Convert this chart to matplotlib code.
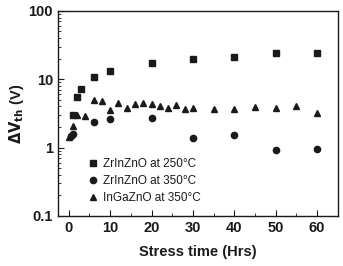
import matplotlib.pyplot as plt
from matplotlib.ticker import MultipleLocator, LogLocator, NullFormatter

plt.rcParams['font.family'] = ['Liberation Sans', 'DejaVu Sans']

# ZrInZnO at 250C
sq_x = [1, 2, 3, 6, 10, 20, 30, 40, 50, 60]
sq_y = [3.0, 5.5, 7.3, 10.8, 13.2, 17.4, 20.1, 21.3, 23.9, 24.4]

# ZrInZnO at 350C
circ_x = [0.5, 1, 6, 10, 20, 30, 40, 50, 60]
circ_y = [1.5, 1.6, 2.4, 2.6, 2.7, 1.37, 1.55, 0.92, 0.96]

# InGaZnO at 350C
tri_x = [0, 1, 2, 4, 6, 8, 10, 12, 14, 16, 18, 20, 22, 24, 26, 28, 30,
         35, 40, 45, 50, 55, 60]
tri_y = [1.45, 2.1, 3.0, 2.9, 5.0, 4.8, 3.6, 4.5, 3.8, 4.4, 4.5, 4.3, 4.1,
         3.8, 4.2, 3.7, 3.8, 3.7, 3.7, 3.9, 3.8, 4.0, 3.2]

ink = '#1a1a1a'

fig = plt.figure(figsize=(3.43, 2.66), dpi=100)
ax = fig.add_axes([0.169, 0.188, 0.816, 0.771])

ax.plot(sq_x, sq_y, 's', color=ink, ms=4.5, label='ZrInZnO at 250°C')
ax.plot(circ_x, circ_y, 'o', color=ink, ms=4.5, label='ZrInZnO at 350°C')
ax.plot(tri_x, tri_y, '^', color=ink, ms=5, label='InGaZnO at 350°C')

ax.set_yscale('log')
ax.set_ylim(0.1, 100)
ax.set_xlim(-2.6, 65)
ax.xaxis.set_major_locator(MultipleLocator(10))
ax.xaxis.set_minor_locator(MultipleLocator(5))
ax.yaxis.set_major_locator(LogLocator(base=10))
ax.yaxis.set_minor_locator(LogLocator(base=10, subs=range(2, 10)))
ax.yaxis.set_minor_formatter(NullFormatter())
ax.set_yticks([0.1, 1, 10, 100])
ax.set_yticklabels(['0.1', '1', '10', '100'])

ax.tick_params(which='both', direction='in', labelsize=10.5, colors=ink)
ax.tick_params(which='major', length=4)
ax.tick_params(which='minor', length=2)
for lbl in ax.get_xticklabels() + ax.get_yticklabels():
    lbl.set_fontweight('bold')
for s in ax.spines.values():
    s.set_linewidth(1.0)
    s.set_color(ink)

ax.set_xlabel('Stress time (Hrs)', fontsize=10.5, fontweight='bold',
              labelpad=7, color=ink)
ax.set_ylabel(r'$\mathbf{\Delta V_{th}}$ (V)', fontsize=10.5,
              fontweight='bold', labelpad=2, color=ink)

leg = ax.legend(loc='lower left', bbox_to_anchor=(0.08, 0.03), frameon=False,
                fontsize=8.5, handletextpad=0.2, labelspacing=0.4,
                borderpad=0, handlelength=1.2)
for t in leg.get_texts():
    t.set_color(ink)

fig.savefig('out.png', dpi=100)
